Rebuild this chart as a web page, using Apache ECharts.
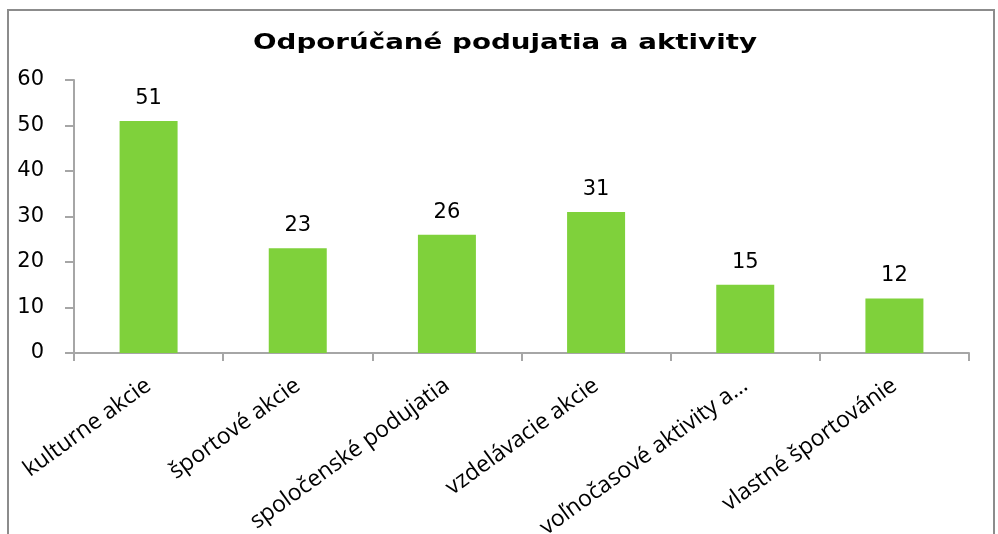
<!DOCTYPE html>
<html>
<head>
<meta charset="utf-8">
<script src="https://cdn.jsdelivr.net/npm/echarts@6/dist/echarts.min.js"></script>
<style>
  html, body { margin: 0; padding: 0; background: #fff; }
  #chartmain { width: 998px; height: 534px; }
</style>
</head>
<body>
<div id="chartmain"></div>
<script>
var categories = ['kulturne akcie', 'športové akcie', 'spoločenské podujatia', 'vzdelávacie akcie', 'voľnočasové aktivity a…', 'vlastné športovánie'];
var values = [51, 23, 26, 31, 15, 12];
var yTicks = [0, 10, 20, 30, 40, 50, 60];
var chartTitle = 'Odporúčané podujatia a aktivity';

var axisGray = '#A6A6A6';

var option = {
    animation: false,
    backgroundColor: '#fff',
    graphic: [{
        type: 'rect',
        shape: { x: 8, y: 10, width: 986, height: 540 },
        style: { fill: 'none', stroke: '#8C8C8C', lineWidth: 2 },
        silent: true
    }, {
        // title drawn as graphic text so it can be stretched like the original
        type: 'text',
        x: 505,
        y: 44,
        scaleX: 1.32,
        originX: 0,
        style: {
            text: chartTitle,
            x: 0,
            y: 0,
            align: 'center',
            verticalAlign: 'middle',
            font: 'bold 21px "DejaVu Sans"',
            fill: '#000'
        },
        silent: true
    }],
    grid: { left: 74, right: 29, top: 80, bottom: 181, containLabel: false, outerBoundsMode: 'none' },
    xAxis: {
        type: 'category',
        data: categories,
        axisLine: { lineStyle: { color: axisGray, width: 2 } },
        axisTick: { show: true, length: 8, lineStyle: { color: axisGray, width: 2 } },
        axisLabel: {
            rotate: 36,
            margin: 30,
            interval: 0,
            fontFamily: 'Open Sans',
            fontSize: 23,
            color: '#000'
        }
    },
    yAxis: {
        type: 'value',
        min: yTicks[0],
        max: yTicks[yTicks.length - 1],
        interval: 10,
        splitLine: { show: false },
        axisLine: { show: true, lineStyle: { color: axisGray, width: 2 } },
        axisTick: { show: true, length: 9, lineStyle: { color: axisGray, width: 2 } },
        axisLabel: {
            margin: 30,
            fontFamily: 'DejaVu Sans',
            fontSize: 21,
            color: '#000'
        }
    },
    series: [{
        type: 'bar',
        data: values,
        barWidth: 58,
        itemStyle: { color: '#7FD13B' },
        label: {
            show: true,
            position: 'top',
            distance: 12,
            fontFamily: 'DejaVu Sans',
            fontSize: 21,
            color: '#000'
        }
    }]
};

var myChart = echarts.init(document.getElementById('chartmain'));
myChart.setOption(option);
</script>
</body>
</html>
